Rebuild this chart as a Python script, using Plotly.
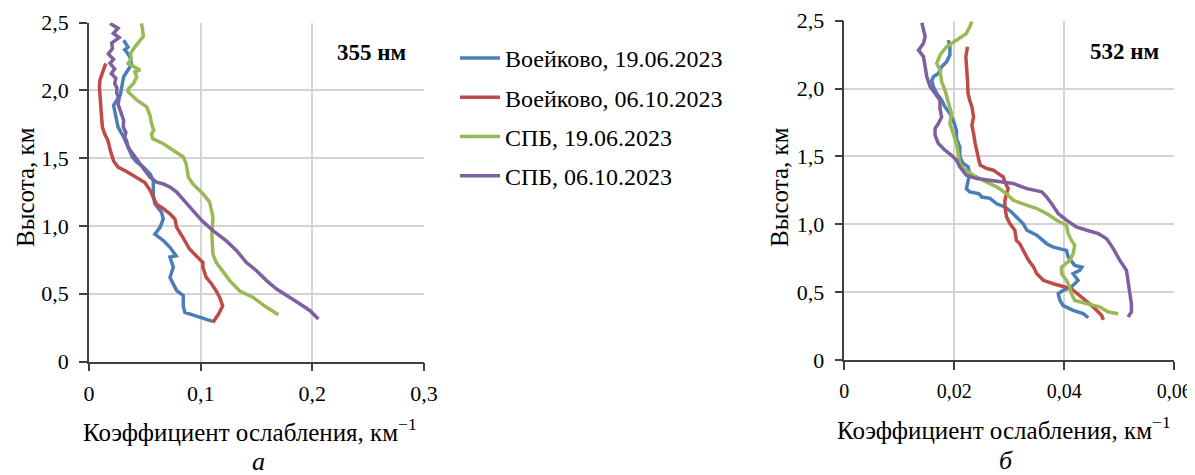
import plotly.graph_objects as go

# ---------------- data ----------------
names = ["Воейково, 19.06.2023", "Воейково, 06.10.2023", "СПБ, 19.06.2023", "СПБ, 06.10.2023"]
colors = ["#4A7EBB", "#BE4B48", "#98B954", "#7D60A0"]

# 355 nm (left panel): altitude (km) and extinction (1/km)
alt355_v19 = [0.296, 0.362, 0.41, 0.486, 0.523, 0.62, 0.695, 0.77, 0.78, 0.843, 0.893, 0.94, 0.99,
              1.053, 1.10, 1.164, 1.226, 1.31, 1.336, 1.386, 1.435, 1.472, 1.509, 1.583, 1.657,
              1.73, 1.83, 1.89, 1.93, 1.965, 2.01, 2.10, 2.14, 2.19, 2.24, 2.27, 2.30, 2.32, 2.37]
ext355_v19 = [0.1107, 0.0859, 0.0844, 0.0844, 0.0785, 0.0725, 0.0755, 0.0725, 0.078, 0.0725, 0.0665,
              0.059, 0.0636, 0.0665, 0.065, 0.059, 0.0576, 0.0576, 0.0576, 0.0546, 0.0487, 0.0427,
              0.0388, 0.035, 0.031, 0.026, 0.023, 0.022, 0.025, 0.028, 0.029, 0.031, 0.034, 0.038,
              0.037, 0.035, 0.032, 0.035, 0.031]

alt355_v06 = [0.288, 0.35, 0.41, 0.473, 0.52, 0.57, 0.62, 0.695, 0.73, 0.78, 0.83, 0.93, 0.99, 1.05,
              1.09, 1.127, 1.16, 1.21, 1.26, 1.32, 1.36, 1.40, 1.435, 1.48, 1.56, 1.63, 1.68, 1.73,
              1.83, 1.93, 2.03, 2.08, 2.14, 2.20]
ext355_v06 = [0.111, 0.116, 0.1197, 0.117, 0.114, 0.11, 0.105, 0.102, 0.102, 0.096, 0.090, 0.083,
              0.0785, 0.077, 0.0725, 0.0666, 0.0606, 0.0576, 0.055, 0.050, 0.0427, 0.034, 0.026,
              0.022, 0.019, 0.017, 0.014, 0.012, 0.011, 0.0099, 0.0093, 0.0099, 0.0128, 0.015]

alt355_s19 = [0.345, 0.40, 0.473, 0.52, 0.597, 0.67, 0.73, 0.79, 0.94, 1.065, 1.176, 1.238, 1.31,
              1.36, 1.46, 1.509, 1.558, 1.607, 1.644, 1.68, 1.706, 1.755, 1.817, 1.879, 1.93, 1.965,
              1.99, 2.01, 2.05, 2.10, 2.137, 2.15, 2.175, 2.20, 2.236, 2.27, 2.32, 2.37, 2.40,
              2.445, 2.495]
ext355_s19 = [0.1696, 0.159, 0.147, 0.135, 0.126, 0.119, 0.114, 0.111, 0.110, 0.111, 0.108, 0.102,
              0.093, 0.089, 0.087, 0.0845, 0.0755, 0.0666, 0.057, 0.056, 0.058, 0.056, 0.0546,
              0.0516, 0.0427, 0.0382, 0.035, 0.035, 0.0397, 0.0427, 0.041, 0.0457, 0.041, 0.035,
              0.038, 0.037, 0.041, 0.0457, 0.0487, 0.048, 0.047]

alt355_s06 = [0.313, 0.375, 0.424, 0.486, 0.535, 0.597, 0.67, 0.73, 0.82, 0.89, 0.966, 1.04, 1.114,
              1.188, 1.25, 1.287, 1.31, 1.324, 1.36, 1.41, 1.46, 1.52, 1.55, 1.58, 1.62, 1.657,
              1.69, 1.73, 1.78, 1.83, 1.87, 1.90, 1.94, 1.98, 2.02, 2.05, 2.09, 2.125, 2.16, 2.20,
              2.23, 2.27, 2.31, 2.35, 2.39, 2.42, 2.46, 2.495]
ext355_s06 = [0.2054, 0.198, 0.189, 0.177, 0.168, 0.159, 0.150, 0.141, 0.132, 0.123, 0.111, 0.101,
              0.093, 0.086, 0.0785, 0.0725, 0.0666, 0.0606, 0.0546, 0.050, 0.0457, 0.0397, 0.038,
              0.035, 0.034, 0.032, 0.033, 0.0307, 0.031, 0.029, 0.028, 0.026, 0.027, 0.0248,
              0.025, 0.023, 0.024, 0.020, 0.023, 0.0188, 0.022, 0.0173, 0.021, 0.0203, 0.027,
              0.0218, 0.026, 0.0188]

# 532 nm (right panel)
alt532_v19 = [0.31, 0.34, 0.364, 0.40, 0.438, 0.487, 0.512, 0.536, 0.585, 0.635, 0.66, 0.684, 0.696,
              0.758, 0.807, 0.83, 0.856, 0.918, 0.955, 1.004, 1.053, 1.09, 1.127, 1.15, 1.19, 1.20,
              1.225, 1.238, 1.262, 1.324, 1.373, 1.422, 1.447, 1.496, 1.57, 1.63, 1.69, 1.767,
              1.816, 1.865, 1.914, 1.964, 2.013, 2.06, 2.087, 2.11, 2.16, 2.197, 2.247, 2.31, 2.357]
ext532_v19 = [0.04436, 0.04345, 0.0416, 0.0398, 0.0392, 0.0389, 0.0398, 0.0413, 0.0425, 0.0416,
              0.0428, 0.0432, 0.0419, 0.0407, 0.0404, 0.038, 0.0368, 0.035, 0.0332, 0.0325,
              0.0313, 0.0304, 0.0292, 0.0277, 0.0265, 0.025, 0.0244, 0.0228, 0.0222, 0.0225,
              0.0228, 0.0225, 0.0216, 0.021, 0.021, 0.0204, 0.0204, 0.0198, 0.0192, 0.0183,
              0.0177, 0.0168, 0.0162, 0.0159, 0.0162, 0.0171, 0.0177, 0.0186, 0.0192, 0.0192, 0.0189]

alt532_v06 = [0.295, 0.327, 0.389, 0.438, 0.487, 0.524, 0.561, 0.586, 0.635, 0.684, 0.733, 0.807,
              0.856, 0.88, 0.955, 1.004, 1.053, 1.127, 1.176, 1.225, 1.262, 1.31, 1.348, 1.373,
              1.398, 1.41, 1.435, 1.484, 1.533, 1.594, 1.668, 1.73, 1.79, 1.865, 1.914, 1.964,
              2.062, 2.16, 2.234, 2.308]
ext532_v06 = [0.0471, 0.0468, 0.0453, 0.0438, 0.0422, 0.0413, 0.038, 0.0362, 0.035, 0.0344, 0.0335,
              0.0325, 0.0319, 0.0313, 0.031, 0.0301, 0.0295, 0.0292, 0.0292, 0.0295, 0.0298,
              0.0292, 0.0289, 0.028, 0.0271, 0.0259, 0.0247, 0.0244, 0.0241, 0.0238, 0.0235,
              0.0232, 0.0235, 0.0232, 0.0228, 0.0225, 0.0224, 0.0222, 0.0221, 0.0224]

alt532_s19 = [0.34, 0.352, 0.389, 0.413, 0.438, 0.487, 0.536, 0.586, 0.635, 0.684, 0.733, 0.782,
              0.844, 0.88, 0.93, 0.992, 1.029, 1.078, 1.115, 1.15, 1.176, 1.225, 1.275, 1.31, 1.36,
              1.41, 1.447, 1.52, 1.594, 1.668, 1.742, 1.816, 1.914, 1.988, 2.05, 2.136, 2.185,
              2.247, 2.308, 2.357, 2.406, 2.456, 2.493]
ext532_s19 = [0.0498, 0.048, 0.0465, 0.0441, 0.0419, 0.0413, 0.041, 0.0404, 0.0395, 0.0395, 0.041,
              0.0416, 0.0419, 0.0413, 0.0407, 0.0404, 0.0386, 0.0368, 0.035, 0.0325, 0.0307,
              0.0295, 0.0277, 0.0259, 0.0235, 0.0216, 0.021, 0.0207, 0.0204, 0.0198, 0.0192,
              0.0195, 0.0189, 0.0183, 0.0177, 0.0174, 0.0168, 0.0174, 0.0186, 0.0204, 0.0222,
              0.0228, 0.0232]

alt532_s06 = [0.315, 0.352, 0.413, 0.487, 0.586, 0.66, 0.733, 0.82, 0.893, 0.93, 0.955, 0.98, 1.029,
              1.078, 1.15, 1.2, 1.238, 1.262, 1.30, 1.31, 1.324, 1.336, 1.36, 1.422, 1.471, 1.508,
              1.545, 1.594, 1.656, 1.705, 1.742, 1.79, 1.853, 1.914, 1.964, 2.013, 2.087, 2.16,
              2.234, 2.283, 2.333, 2.382, 2.43, 2.485]
ext532_s06 = [0.0516, 0.0522, 0.0522, 0.0519, 0.0516, 0.0513, 0.0501, 0.0489, 0.0477, 0.0462,
              0.0441, 0.0422, 0.0404, 0.0389, 0.0377, 0.0368, 0.0359, 0.0332, 0.0307, 0.0289,
              0.0265, 0.0241, 0.0222, 0.021, 0.0204, 0.0195, 0.0183, 0.0171, 0.0165, 0.0165,
              0.0171, 0.0177, 0.0174, 0.0174, 0.0165, 0.0156, 0.015, 0.0147, 0.0144, 0.0135,
              0.0144, 0.0147, 0.0144, 0.0141]

left_x = [ext355_v19, ext355_v06, ext355_s19, ext355_s06]
left_y = [alt355_v19, alt355_v06, alt355_s19, alt355_s06]
right_x = [ext532_v19, ext532_v06, ext532_s19, ext532_s06]
right_y = [alt532_v19, alt532_v06, alt532_s19, alt532_s06]

y_ticks = [0, 0.5, 1.0, 1.5, 2.0, 2.5]
y_ticktext = ["0", "0,5", "1,0", "1,5", "2,0", "2,5"]
x1_ticks = [0, 0.1, 0.2, 0.3]
x1_ticktext = ["0", "0,1", "0,2", "0,3"]
x2_ticks = [0, 0.02, 0.04, 0.06]
x2_ticktext = ["0", "0,02", "0,04", "0,06"]

FONT = "Liberation Serif"

fig = go.Figure()
for i in range(4):
    fig.add_trace(go.Scatter(x=left_x[i], y=left_y[i], mode="lines", name=names[i],
                             line=dict(color=colors[i], width=3.5), xaxis="x", yaxis="y",
                             legendgroup=str(i), showlegend=True))
for i in range(4):
    fig.add_trace(go.Scatter(x=right_x[i], y=right_y[i], mode="lines", name=names[i],
                             line=dict(color=colors[i], width=3.5), xaxis="x2", yaxis="y2",
                             legendgroup=str(i), showlegend=False))

# The page body adds an 8px margin, so the figure is 8px smaller and
# positions are given in page pixels, converted to paper fractions.
OFF = 8
W, H = 1195 - OFF, 475 - OFF
def px(x):
    return (x - OFF) / W
def py(y):
    return 1 - (y - OFF) / H

axis_common = dict(showgrid=True, gridcolor="#D4D4D4", gridwidth=1.5, zeroline=False,
                   showline=True, linecolor="#404040", linewidth=1.5, ticks="outside",
                   ticklen=8, tickwidth=1.5, tickcolor="#404040", automargin=False)
tf = dict(family=FONT, size=22, color="#000000")
tf2 = dict(family=FONT, size=20, color="#000000")

fig.update_layout(
    width=W, height=H, margin=dict(l=0, r=0, t=0, b=0),
    paper_bgcolor="white", plot_bgcolor="white",
    font=dict(family=FONT, size=22, color="#000000"),
    xaxis=dict(domain=[px(89), px(424)], range=[0, 0.3], tickvals=x1_ticks, ticktext=x1_ticktext,
               anchor="y", ticklabelstandoff=3, tickfont=tf, **axis_common),
    yaxis=dict(domain=[py(361.5), py(22.7)], range=[0, 2.5], tickvals=y_ticks,
               ticktext=y_ticktext, anchor="x", ticklabelstandoff=6, tickfont=tf, **axis_common),
    xaxis2=dict(domain=[px(844.3), px(1174.3)], range=[0, 0.06], tickvals=x2_ticks,
                ticktext=x2_ticktext, anchor="y2", ticklabelstandoff=4, tickfont=tf2,
                **axis_common),
    yaxis2=dict(domain=[py(359.8), py(20.7)], range=[0, 2.5], tickvals=y_ticks,
                ticktext=y_ticktext, anchor="x2", ticklabelstandoff=6, tickfont=tf,
                **axis_common),
    legend=dict(x=px(455), y=py(36), xanchor="left", yanchor="top",
                font=dict(family=FONT, size=24, color="#000000"),
                tracegroupgap=5, itemwidth=40, bgcolor="rgba(0,0,0,0)"),
    showlegend=True,
)

ann = []
def add_text(text, x, y, size=25, angle=0, bold=False, italic=False):
    if bold:
        text = "<b>" + text + "</b>"
    if italic:
        text = "<i>" + text + "</i>"
    ann.append(dict(text=text, x=px(x), y=py(y), xref="paper", yref="paper",
                    showarrow=False, textangle=angle, xanchor="center", yanchor="middle",
                    font=dict(family=FONT, size=size, color="#000000")))

add_text("Высота, км", 25, 187, angle=-90)
add_text("Высота, км", 779, 187, angle=-90)
add_text("Коэффициент ослабления, км<sup>−1</sup>", 250, 430)
add_text("Коэффициент ослабления, км<sup>−1</sup>", 1004, 428)
add_text("355 нм", 371, 52, size=23, bold=True)
add_text("532 нм", 1124, 51, size=23, bold=True)
add_text("а", 259, 461, size=26, italic=True)
add_text("б", 1006, 460, size=26, italic=True)
fig.update_layout(annotations=ann)

fig.write_html("out.html")
